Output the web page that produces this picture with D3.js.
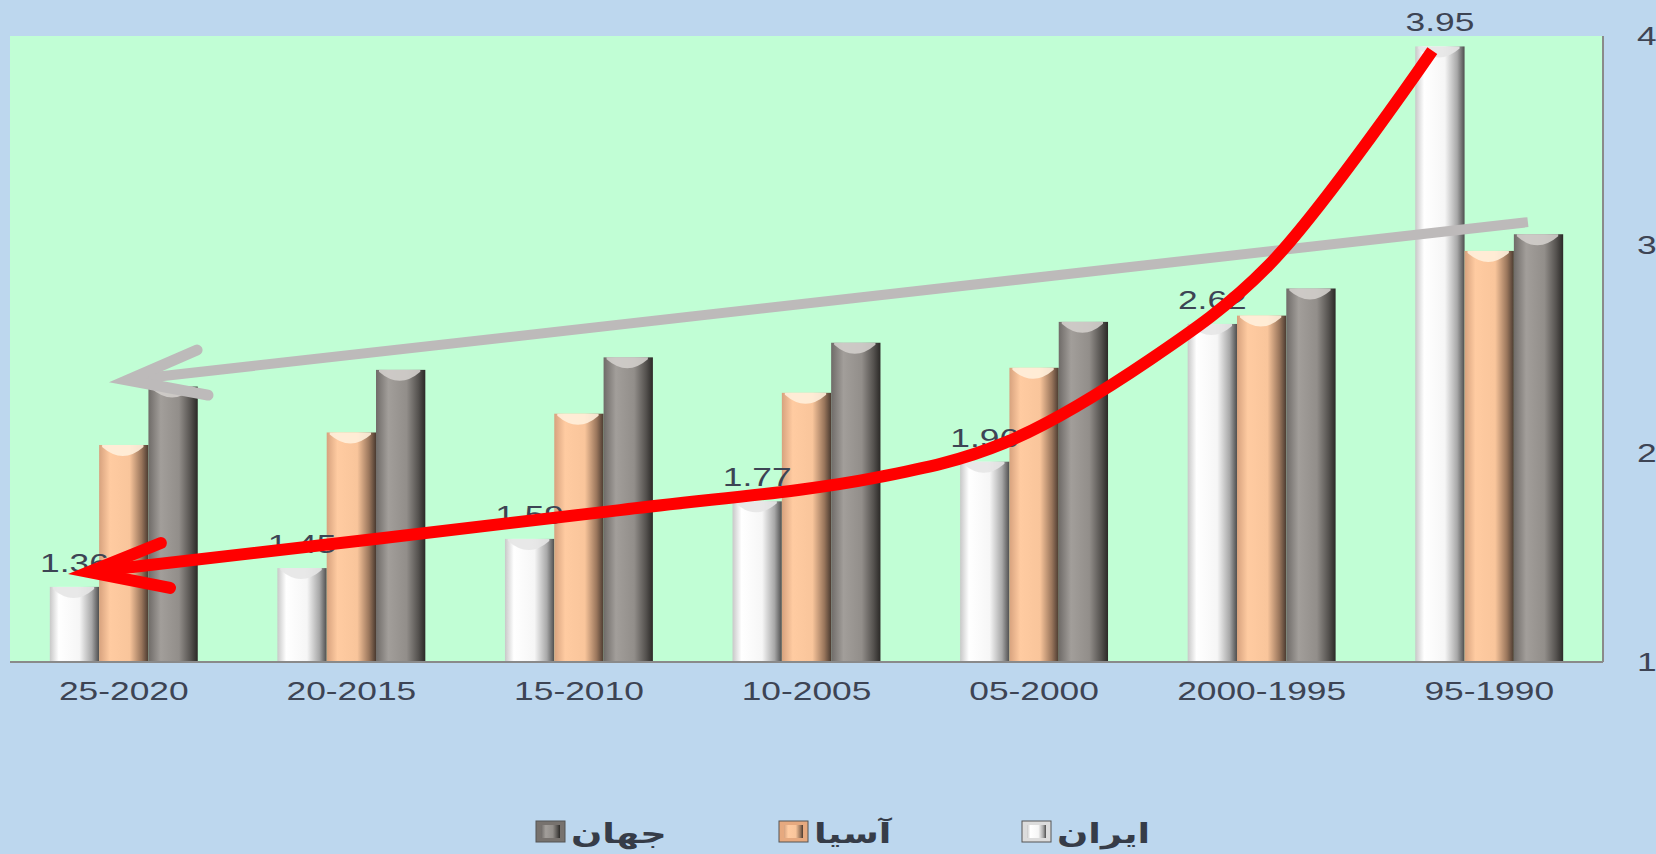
<!DOCTYPE html>
<html>
<head>
<meta charset="utf-8">
<script src="https://cdn.jsdelivr.net/npm/d3@7"></script>
<style>
  body { margin: 0; background: #bdd7ee; }
  svg { display: block; }
</style>
</head>
<body>
<div id="chart"></div>
<script>
const categories = ["25-2020", "20-2015", "15-2010", "10-2005", "05-2000", "2000-1995", "95-1990"];
const seriesNames = ["ایران", "آسیا", "جهان"];
const iran = [1.36, 1.45, 1.59, 1.77, 1.96, 2.62, 3.95];
const asia = [2.04, 2.10, 2.19, 2.29, 2.41, 2.66, 2.97];
const world = [2.32, 2.40, 2.46, 2.53, 2.63, 2.79, 3.05];
const yTicks = [1, 2, 3, 4];

// hand drawn arrows, in [category position, value]
const redCurve = [[5.75, 3.93], [5.03, 2.90], [4.51, 2.45], [3.87, 2.05], [3.3, 1.882], [2.18, 1.728], [-0.153, 1.431]];
const redHead = [[0.163, 1.57], [-0.153, 1.431], [0.203, 1.355]];
const grayLine = [[6.17, 3.108], [0.017, 2.351]];
const grayHead = [[0.322, 2.495], [0.017, 2.351], [0.37, 2.279]];

const width = 1656;
const height = 854;
const plot = { left: 10, right: 1603, top: 36, bottom: 662 };
const stretch = 1.36;

const svg = d3.select("#chart")
  .append("svg")
  .attr("width", width)
  .attr("height", height);

const defs = svg.append("defs");

function gradient(id, stops) {
  const g = defs.append("linearGradient")
    .attr("id", id)
    .attr("x1", "0%").attr("x2", "100%")
    .attr("y1", "0%").attr("y2", "0%");
  stops.forEach(s => g.append("stop").attr("offset", s[0]).attr("stop-color", s[1]));
}

gradient("g-iran", [["0%", "#c8c8c8"], ["18%", "#ffffff"], ["60%", "#f6f6f6"], ["85%", "#a8a8a8"], ["100%", "#4e4e4e"]]);
gradient("g-asia", [["0%", "#d7a27e"], ["22%", "#ffcba1"], ["62%", "#f9c59b"], ["86%", "#9a765c"], ["100%", "#4a3a30"]]);
gradient("g-world", [["0%", "#6f6b68"], ["25%", "#a29e9a"], ["62%", "#928e8a"], ["86%", "#55524f"], ["100%", "#2b2927"]]);

const fills = ["url(#g-iran)", "url(#g-asia)", "url(#g-world)"];
const capFills = ["#e6e6e6", "#fff0dc", "#d2cecb"];
const swatchFills = ["#dcdcdc", "#e6a97f", "#77726e"];

const x0 = d3.scaleBand()
  .domain(categories)
  .range([plot.left, plot.right])
  .paddingInner(0.35)
  .paddingOuter(0.175);

const x1 = d3.scaleBand()
  .domain([0, 1, 2])
  .range([0, x0.bandwidth()]);

const y = d3.scaleLinear()
  .domain([1, 4])
  .range([plot.bottom, plot.top]);

const xPos = d3.scaleLinear()
  .domain([0, categories.length - 1])
  .range([x0(categories[0]) + x0.bandwidth() / 2, x0(categories[6]) + x0.bandwidth() / 2]);

// plot area
svg.append("rect")
  .attr("x", plot.left)
  .attr("y", plot.top)
  .attr("width", plot.right - plot.left)
  .attr("height", plot.bottom - plot.top)
  .attr("fill", "#c1fed5");

const series = [iran, asia, world];

series.forEach((values, k) => {
  const g = svg.append("g");
  const bw = x1.bandwidth();
  g.selectAll("rect")
    .data(values)
    .join("rect")
    .attr("x", (d, i) => x0(categories[i]) + x1(k))
    .attr("y", d => y(d))
    .attr("width", bw)
    .attr("height", d => y(1) - y(d))
    .attr("fill", fills[k]);

  // concave top of each cylinder
  g.selectAll("path")
    .data(values)
    .join("path")
    .attr("d", (d, i) => {
      const bx = x0(categories[i]) + x1(k) + 3;
      const by = y(d);
      const w = bw - 8;
      return `M${bx},${by} L${bx + w},${by} L${bx + w},${by + 2} Q${bx + w / 2},${by + 20} ${bx},${by + 2} Z`;
    })
    .attr("fill", capFills[k])
    .attr("opacity", 0.9);
});

// axis lines
svg.append("line")
  .attr("x1", plot.left).attr("x2", plot.right)
  .attr("y1", plot.bottom).attr("y2", plot.bottom)
  .attr("stroke", "#8a8a8a").attr("stroke-width", 2);

svg.append("line")
  .attr("x1", plot.right).attr("x2", plot.right)
  .attr("y1", plot.top).attr("y2", plot.bottom)
  .attr("stroke", "#8a8a8a").attr("stroke-width", 2);

const textColor = "#3d4454";

function stretchedText(parent, x, yy, label, anchor) {
  parent.append("g")
    .attr("transform", `translate(${x},${yy})`)
    .append("text")
    .attr("transform", `scale(${stretch},1)`)
    .attr("text-anchor", anchor)
    .attr("font-family", "Liberation Sans, Arial, sans-serif")
    .attr("font-size", 26)
    .attr("fill", textColor)
    .text(label);
}

// category labels
categories.forEach(c => {
  stretchedText(svg, x0(c) + x0.bandwidth() / 2, 700, c, "middle");
});

// y tick labels on the right
yTicks.forEach(t => {
  stretchedText(svg, 1637, y(t) + 9, t, "start");
});

// data labels for Iran
iran.forEach((v, i) => {
  stretchedText(svg, x0(categories[i]) + x1(0) + x1.bandwidth() / 2, y(v) - 15, v.toFixed(2), "middle");
});

// arrows
const line = d3.line()
  .x(d => xPos(d[0]))
  .y(d => y(d[1]));

svg.append("path")
  .attr("d", line.curve(d3.curveLinear)(grayLine))
  .attr("fill", "none")
  .attr("stroke", "#bdbaba")
  .attr("stroke-width", 10);

svg.append("path")
  .attr("d", line.curve(d3.curveLinear)(grayHead))
  .attr("fill", "none")
  .attr("stroke", "#bdbaba")
  .attr("stroke-width", 11)
  .attr("stroke-linecap", "round")
  .attr("stroke-linejoin", "miter");

svg.append("path")
  .attr("d", line.curve(d3.curveCatmullRom.alpha(0.5))(redCurve))
  .attr("fill", "none")
  .attr("stroke", "#ff0000")
  .attr("stroke-width", 12);

svg.append("path")
  .attr("d", line.curve(d3.curveLinear)(redHead))
  .attr("fill", "none")
  .attr("stroke", "#ff0000")
  .attr("stroke-width", 12)
  .attr("stroke-linecap", "round")
  .attr("stroke-linejoin", "miter");

// legend, right to left: ایران, آسیا, جهان
const legendX = d3.scalePoint()
  .domain([2, 1, 0])
  .range([536, 1022]);

[0, 1, 2].forEach(k => {
  const lg = svg.append("g")
    .attr("transform", `translate(${legendX(k)},821)`);
  lg.append("rect")
    .attr("width", 29)
    .attr("height", 21)
    .attr("fill", swatchFills[k])
    .attr("stroke", "#555")
    .attr("stroke-width", 1);
  lg.append("rect")
    .attr("x", 5).attr("y", 4)
    .attr("width", 19)
    .attr("height", 13)
    .attr("fill", fills[k]);
  lg.append("g")
    .attr("transform", "translate(35,22)")
    .append("text")
    .attr("transform", `scale(${stretch},1)`)
    .attr("font-family", "DejaVu Sans, sans-serif")
    .attr("font-weight", "bold")
    .attr("font-size", 27)
    .attr("fill", "#363c48")
    .text(seriesNames[k]);
});
</script>
</body>
</html>
